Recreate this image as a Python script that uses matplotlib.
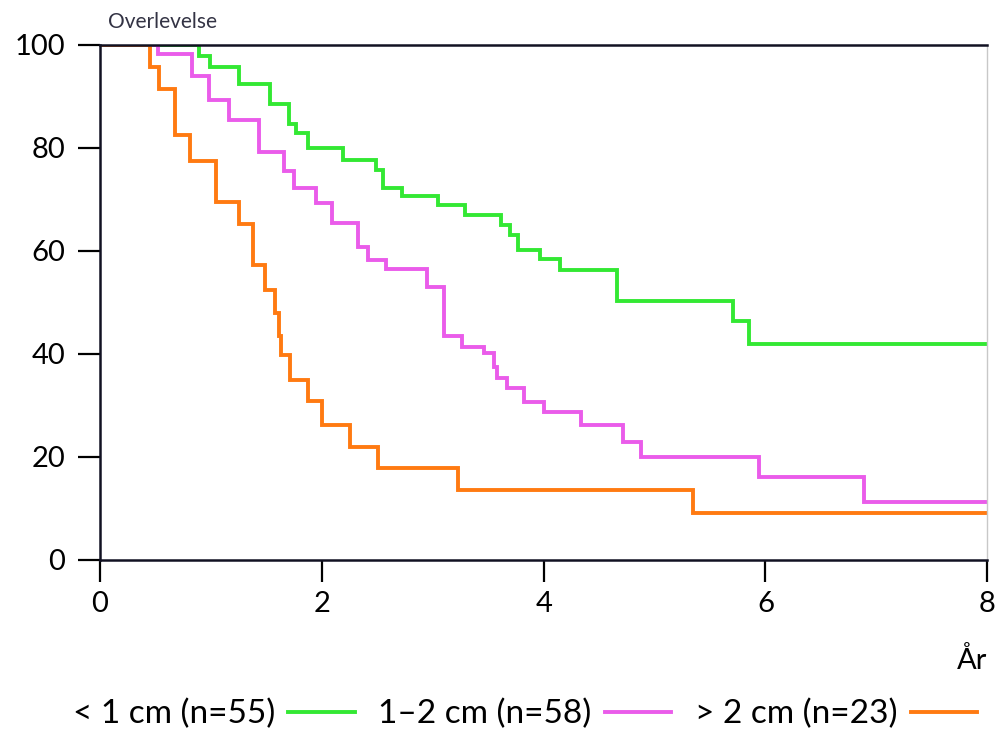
import matplotlib
matplotlib.use("Agg")
import matplotlib.pyplot as plt

plt.rcParams['font.family'] = ['Lato', 'DejaVu Sans']

# survival curves (years, percent surviving)
small_t = [0, 0.89, 0.99, 1.25, 1.53, 1.70, 1.77, 1.88, 2.19, 2.49, 2.55, 2.72,
           3.05, 3.29, 3.62, 3.70, 3.77, 3.97, 4.15, 4.66, 5.71, 5.85, 8]
small_v = [100, 97.8, 95.8, 92.4, 88.5, 84.7, 82.8, 79.9, 77.7, 75.7, 72.3, 70.6,
           69.0, 66.9, 65.0, 63.1, 60.2, 58.5, 56.3, 50.3, 46.3, 41.9, 41.9]

mid_t = [0, 0.52, 0.83, 0.98, 1.16, 1.43, 1.66, 1.75, 1.95, 2.09, 2.33, 2.42,
         2.58, 2.95, 3.10, 3.26, 3.46, 3.55, 3.58, 3.67, 3.82, 4.00, 4.34,
         4.72, 4.88, 5.94, 6.89, 8]
mid_v = [100, 98.3, 93.9, 89.3, 85.4, 79.3, 75.6, 72.2, 69.3, 65.4, 60.8, 58.3,
         56.5, 53.0, 43.4, 41.4, 40.1, 37.5, 35.3, 33.3, 30.7, 28.8, 26.2,
         23.0, 19.9, 16.1, 11.3, 11.3]

large_t = [0, 0.45, 0.53, 0.68, 0.81, 1.05, 1.25, 1.38, 1.49, 1.58, 1.61, 1.63,
           1.71, 1.88, 2.00, 2.25, 2.51, 3.23, 5.35, 8]
large_v = [100, 95.7, 91.5, 82.5, 77.5, 69.4, 65.3, 57.2, 52.5, 47.9, 43.5, 39.8,
           35.0, 30.8, 26.2, 21.9, 17.8, 13.5, 9.1, 9.1]

labels = ['< 1 cm (n=55)', '1–2 cm (n=58)', '> 2 cm (n=23)']
colors = ['#33e833', '#ea5cea', '#ff7a12']

fig = plt.figure(figsize=(9.98, 7.38), dpi=100)
ax = fig.add_axes([0.1002, 0.2412, 0.889, 0.698])

for t, v, lab, c in zip([small_t, mid_t, large_t], [small_v, mid_v, large_v], labels, colors):
    ax.step(t, v, where='post', color=c, lw=2.8, label=lab, solid_joinstyle='miter')

ax.set_xlim(0, 8)
ax.set_ylim(0, 100)
ax.set_xticks([0, 2, 4, 6, 8])
ax.set_yticks([0, 20, 40, 60, 80, 100])
ax.tick_params(axis='both', direction='out', length=16, width=1.6, labelsize=21,
               colors='black')
ax.tick_params(axis='y', pad=9)
ax.tick_params(axis='x', pad=6)
for side in ['left', 'bottom', 'top']:
    ax.spines[side].set_linewidth(1.8)
    ax.spines[side].set_color('#111122')
ax.spines['right'].set_color('#c8c8c8')
ax.spines['right'].set_linewidth(1)

ax.set_xlabel('År', loc='right', fontsize=21, labelpad=22)
ax.text(0.07, 102.5, 'Overlevelse', transform=ax.transData, ha='left',
        va='bottom', fontsize=15, color='#333344')

fig.legend(loc='center', bbox_to_anchor=(0.526, 1 - 714 / 738), ncol=3, frameon=False,
           markerfirst=False, fontsize=24, handlelength=2.0, columnspacing=0.7,
           handletextpad=0.4)

fig.savefig('out.png', dpi=100)
